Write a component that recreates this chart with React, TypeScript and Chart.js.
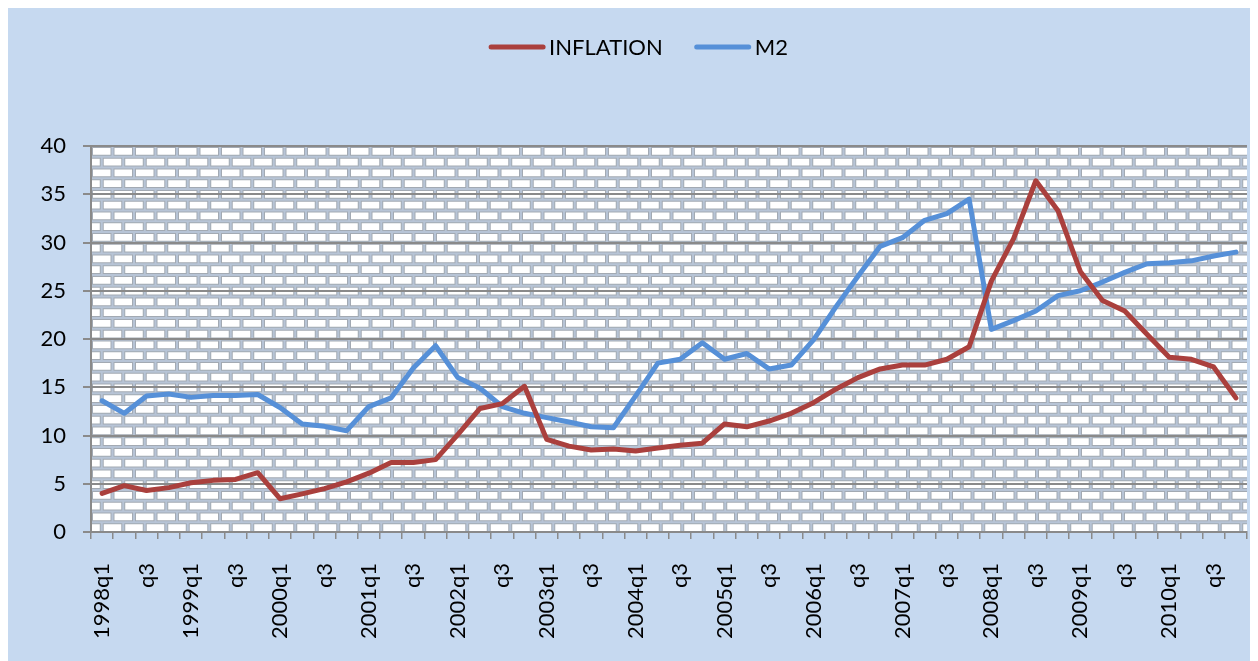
import React, { useEffect, useRef } from 'react';
import { Chart, registerables } from 'chart.js';

Chart.register(...registerables);

const years = [1998, 1999, 2000, 2001, 2002, 2003, 2004, 2005, 2006, 2007, 2008, 2009, 2010];
const quarters = ['q1', 'q2', 'q3', 'q4'];
const categories = years.flatMap((y) => quarters.map((q, i) => (i === 0 ? `${y}${q}` : q)));

const inflation = [
  4.0, 4.8, 4.3, 4.6, 5.1, 5.35, 5.45, 6.15, 3.45, 3.95, 4.5, 5.2,
  6.1, 7.2, 7.2, 7.5, 10.1, 12.8, 13.3, 15.1, 9.6, 8.9, 8.5, 8.6,
  8.4, 8.7, 9.0, 9.2, 11.2, 10.9, 11.5, 12.3, 13.4, 14.8, 16.0, 16.9,
  17.3, 17.3, 17.9, 19.2, 26.0, 30.4, 36.4, 33.3, 27.0, 24.0, 22.9, 20.5,
  18.1, 17.9, 17.1, 13.9,
];

const m2 = [
  13.6, 12.3, 14.1, 14.3, 13.95, 14.15, 14.15, 14.25, 12.9, 11.2, 10.95, 10.5,
  13.0, 13.9, 17.0, 19.3, 16.0, 14.9, 13.0, 12.3, 11.85, 11.4, 10.9, 10.8,
  14.1, 17.5, 17.9, 19.6, 17.9, 18.5, 16.9, 17.3, 19.9, 23.3, 26.5, 29.6,
  30.5, 32.3, 33.0, 34.5, 21.0, 21.9, 22.9, 24.5, 25.0, 25.9, 26.9, 27.8,
  27.9, 28.1, 28.6, 29.0,
];

const seriesNames = ['INFLATION', 'M2'];
const yMin = 0;
const yMax = 40;
const yStep = 5;

const BG = '#C6D9F0';
const GRID = '#8A8A8A';
const RED = '#AA403D';
const BLUE = '#5690D8';
const FONT = 'Lato, "Open Sans", sans-serif';

function makeBrickPattern(ctx: CanvasRenderingContext2D) {
  const size = 43;
  const c = document.createElement('canvas');
  c.width = size;
  c.height = size;
  const g = c.getContext('2d')!;
  g.fillStyle = '#B7C4D6';
  g.fillRect(0, 0, size, size);
  const rh = size / 4;
  const bw = size / 2;
  for (let r = 0; r < 4; r++) {
    const off = r % 2 ? bw / 2 : 0;
    for (let k = -1; k < 3; k++) {
      const x = k * bw + off;
      const y = r * rh;
      g.fillStyle = '#A3AAB3';
      g.fillRect(x + 1.0, y + 1.0, bw - 2.0, rh - 2.0);
      g.fillStyle = '#FFFFFF';
      g.fillRect(x + 2.0, y + 2.0, bw - 4.0, rh - 4.0);
    }
  }
  return ctx.createPattern(c, 'repeat');
}

const backgroundPlugin = {
  id: 'bgPlugin',
  beforeDraw(chart: any) {
    const { ctx, chartArea } = chart;
    ctx.save();
    ctx.fillStyle = BG;
    ctx.fillRect(0, 0, chart.width, chart.height);
    const pat = makeBrickPattern(ctx);
    if (pat) {
      if ((pat as any).setTransform) {
        (pat as any).setTransform(new DOMMatrix().translate(chartArea.left, chartArea.top));
      }
      ctx.fillStyle = pat;
      ctx.fillRect(chartArea.left, chartArea.top, chartArea.right - chartArea.left, chartArea.bottom - chartArea.top);
    }
    ctx.restore();
  },
};

const legendPlugin = {
  id: 'excelLegend',
  afterDraw(chart: any) {
    const ctx = chart.ctx as CanvasRenderingContext2D;
    ctx.save();
    ctx.font = `22px ${FONT}`;
    const lineW = 56;
    const gap = 4;
    const itemGap = 32;
    const items = chart.data.datasets.map((d: any) => ({
      label: d.label as string,
      color: d.borderColor as string,
      w: ctx.measureText(d.label).width,
    }));
    const total =
      items.reduce((s: number, it: any) => s + lineW + gap + it.w, 0) + itemGap * (items.length - 1);
    let x = chart.width / 2 + 5.5 - total / 2;
    const y = 39;
    ctx.textBaseline = 'middle';
    ctx.textAlign = 'left';
    for (const it of items) {
      ctx.strokeStyle = it.color;
      ctx.lineWidth = 5;
      ctx.lineCap = 'round';
      ctx.beginPath();
      ctx.moveTo(x + 2, y);
      ctx.lineTo(x + lineW - 2, y);
      ctx.stroke();
      ctx.fillStyle = '#000000';
      ctx.fillText(it.label, x + lineW + gap, y + 1);
      x += lineW + gap + it.w + itemGap;
    }
    ctx.restore();
  },
};

export default function App() {
  const ref = useRef<HTMLCanvasElement | null>(null);

  useEffect(() => {
    if (!ref.current) return;
    const chart = new Chart(ref.current, {
      type: 'line',
      data: {
        labels: categories,
        datasets: [
          {
            label: seriesNames[0],
            data: inflation,
            borderColor: RED,
            backgroundColor: RED,
            borderWidth: 5,
            pointRadius: 0,
            tension: 0,
            borderJoinStyle: 'round',
            borderCapStyle: 'round',
          },
          {
            label: seriesNames[1],
            data: m2,
            borderColor: BLUE,
            backgroundColor: BLUE,
            borderWidth: 5,
            pointRadius: 0,
            tension: 0,
            borderJoinStyle: 'round',
            borderCapStyle: 'round',
          },
        ],
      },
      options: {
        responsive: false,
        animation: false,
        layout: { padding: { top: 138, left: 0, right: 11, bottom: 0 } },
        plugins: {
          legend: { display: false },
          tooltip: { enabled: false },
          title: { display: false },
        },
        scales: {
          x: {
            type: 'category',
            offset: true,
            grid: {
              display: true,
              drawOnChartArea: false,
              drawTicks: true,
              tickLength: 7,
              color: GRID,
              lineWidth: 1.5,
              offset: true,
            },
            border: { display: true, color: GRID, width: 2 },
            ticks: {
              autoSkip: false,
              minRotation: 90,
              maxRotation: 90,
              padding: 24,
              color: '#000000',
              font: { family: FONT, size: 22 },
              callback: (_v: any, i: number) => (i % 2 === 0 ? categories[i] : ''),
            },
            afterFit: (scale: any) => {
              scale.height = 129;
              scale.paddingLeft = 0;
              scale.paddingRight = 0;
            },
          },
          y: {
            min: yMin,
            max: yMax,
            ticks: {
              stepSize: yStep,
              padding: 17,
              color: '#000000',
              font: { family: FONT, size: 22 },
            },
            grid: {
              color: GRID,
              lineWidth: 2,
              drawTicks: true,
              tickLength: 8,
            },
            border: { display: true, color: GRID, width: 2 },
            afterFit: (scale: any) => {
              scale.width = 83;
            },
          },
        },
      },
      plugins: [backgroundPlugin, legendPlugin],
    });
    return () => chart.destroy();
  }, []);

  return <canvas ref={ref} width={1250} height={653} style={{ display: 'block' }} />;
}
